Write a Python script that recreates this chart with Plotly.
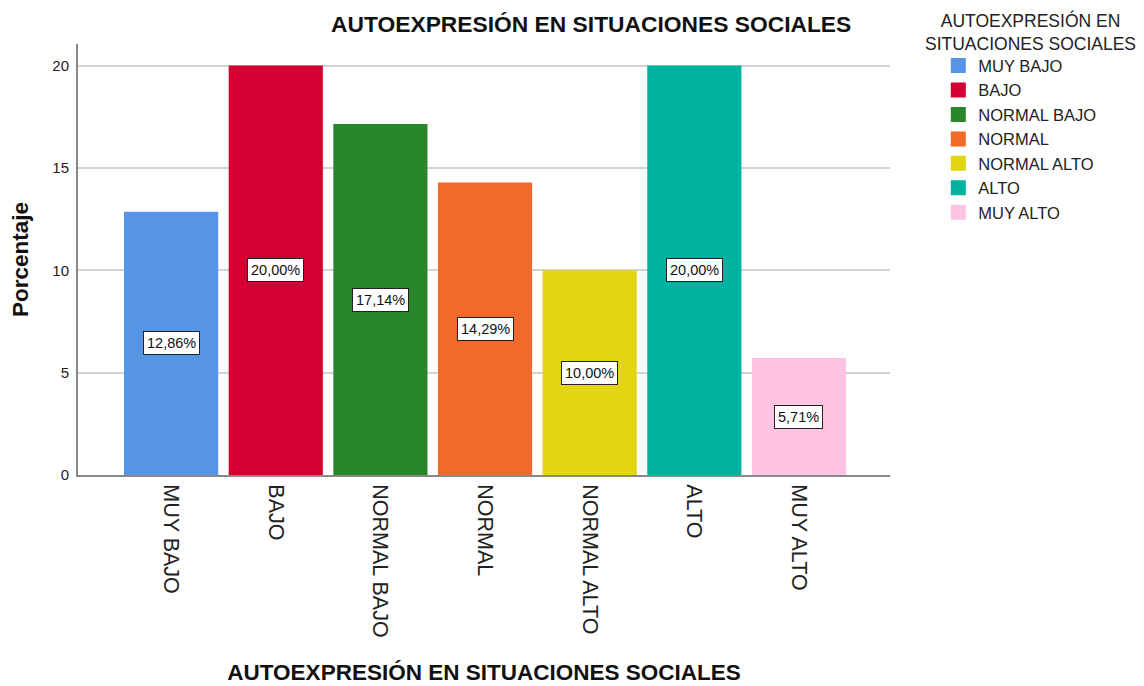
import plotly.graph_objects as go

categories = ["MUY BAJO", "BAJO", "NORMAL BAJO", "NORMAL", "NORMAL ALTO", "ALTO", "MUY ALTO"]
values = [12.86, 20.00, 17.14, 14.29, 10.00, 20.00, 5.71]
labels = ["12,86%", "20,00%", "17,14%", "14,29%", "10,00%", "20,00%", "5,71%"]
colors = ["#5694E5", "#D50032", "#2A862A", "#F2692C", "#E2D511", "#00B3A0", "#FEC3E0"]
y_ticks = [0, 5, 10, 15, 20]
legend_title = "AUTOEXPRESIÓN EN<br>SITUACIONES SOCIALES"
chart_title = "AUTOEXPRESIÓN EN SITUACIONES SOCIALES"

FONT = "Liberation Sans, Arial, sans-serif"

fig = go.Figure()
for cat, val, col in zip(categories, values, colors):
    fig.add_trace(go.Bar(
        x=[cat], y=[val], name=cat, width=0.9, showlegend=False,
        marker=dict(color=col, line=dict(width=0)),
        hoverinfo="skip",
    ))
# legend entries with larger square swatches
for cat, col in zip(categories, colors):
    fig.add_trace(go.Scatter(
        x=[None], y=[None], mode="markers", name=cat,
        marker=dict(symbol="square", size=15, color=col),
    ))

for cat, val, lab in zip(categories, values, labels):
    fig.add_annotation(
        x=cat, y=val / 2, xref="x", yref="y", text=lab, showarrow=False,
        font=dict(family=FONT, size=14.5, color="#111111"),
        bgcolor="white", bordercolor="#222222", borderwidth=1, borderpad=3,
    )

fig.add_annotation(
    x=1.1736, y=1.029, xref="paper", yref="paper", xanchor="center", yanchor="middle",
    text=legend_title, showarrow=False, align="center",
    font=dict(family=FONT, size=17.5, color="#222222"),
)

fig.update_layout(
    width=1144, height=686,
    barmode="overlay",
    paper_bgcolor="white", plot_bgcolor="white",
    margin=dict(l=70, r=262, t=36, b=219, autoexpand=False),
    font=dict(family=FONT, color="#222222"),
    title=dict(
        text="<b>" + chart_title + "</b>",
        x=0.632, xref="paper", xanchor="center",
        y=0.9767, yref="container", yanchor="middle",
        font=dict(family=FONT, size=22.8, color="#111111"),
    ),
    xaxis=dict(
        categoryorder="array", categoryarray=categories,
        range=[-0.89, 6.87], automargin=False,
        tickangle=90, tickfont=dict(family=FONT, size=21.5, color="#222222"),
        ticklabelstandoff=3,
        showline=True, linecolor="#888888", linewidth=2,
        showgrid=False, ticks="", ticklen=0,
        title=dict(text="<b>" + chart_title + "</b>",
                   font=dict(family=FONT, size=22.5, color="#111111"), standoff=28),
    ),
    yaxis=dict(
        range=[0, 21.05], tickvals=y_ticks, automargin=False,
        tickfont=dict(family=FONT, size=15, color="#222222"),
        ticklabelstandoff=4,
        showline=True, linecolor="#888888", linewidth=2,
        showgrid=True, gridcolor="#D3D3D3", gridwidth=2,
        zeroline=False, ticks="", ticklen=0,
        title=dict(text="<b>Porcentaje</b>",
                   font=dict(family=FONT, size=22.5, color="#111111"), standoff=18),
    ),
    legend=dict(
        x=1.0595, xanchor="left", y=0.99, yanchor="top",
        font=dict(family=FONT, size=16.5, color="#222222"),
        tracegroupgap=0, itemsizing="trace",
        bgcolor="rgba(0,0,0,0)",
    ),
)

fig.write_html("out.html")
